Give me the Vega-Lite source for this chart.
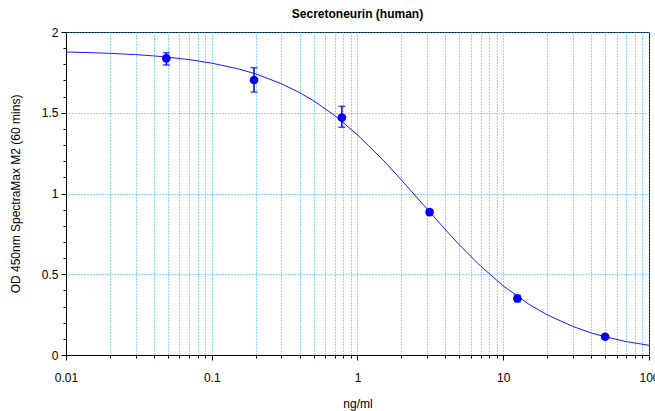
{
  "$schema": "https://vega.github.io/schema/vega-lite/v6.json",
  "width": 583,
  "height": 323,
  "autosize": {"type": "none"},
  "padding": {"left": 66, "top": 32, "right": 6, "bottom": 56},
  "background": "white",
  "title": {"text": "Secretoneurin (human)", "font": "Liberation Sans", "fontSize": 12, "fontWeight": "bold", "color": "#000000", "offset": 5, "anchor": "middle"},
  "config": {
    "view": {"stroke": "#000000", "strokeWidth": 1},
    "axis": {"labelFont": "Liberation Sans", "titleFont": "Liberation Sans", "labelFontSize": 12, "titleFontSize": 12, "titleFontWeight": "normal", "labelColor": "#000000", "titleColor": "#000000", "domainColor": "#000000", "tickColor": "#000000"}
  },
  "datasets": {
    "curve": [
      {"conc": 0.01, "od": 1.876}, {"conc": 0.015, "od": 1.872}, {"conc": 0.02, "od": 1.868}, {"conc": 0.03, "od": 1.86},
      {"conc": 0.04, "od": 1.852}, {"conc": 0.05, "od": 1.844}, {"conc": 0.07, "od": 1.829}, {"conc": 0.1, "od": 1.807},
      {"conc": 0.15, "od": 1.773}, {"conc": 0.2, "od": 1.741}, {"conc": 0.3, "od": 1.68}, {"conc": 0.4, "od": 1.625},
      {"conc": 0.5, "od": 1.574}, {"conc": 0.7, "od": 1.482}, {"conc": 1, "od": 1.363}, {"conc": 1.5, "od": 1.207},
      {"conc": 2, "od": 1.084}, {"conc": 3, "od": 0.904}, {"conc": 4, "od": 0.777}, {"conc": 5, "od": 0.682},
      {"conc": 7, "od": 0.55}, {"conc": 10, "od": 0.428}, {"conc": 15, "od": 0.314}, {"conc": 20, "od": 0.249},
      {"conc": 30, "od": 0.177}, {"conc": 40, "od": 0.137}, {"conc": 50, "od": 0.113}, {"conc": 70, "od": 0.083},
      {"conc": 100, "od": 0.06}
    ],
    "points": [
      {"conc": 0.0488, "od": 1.837, "lo": 1.796, "hi": 1.871},
      {"conc": 0.195, "od": 1.703, "lo": 1.628, "hi": 1.779},
      {"conc": 0.781, "od": 1.47, "lo": 1.41, "hi": 1.54},
      {"conc": 3.125, "od": 0.885, "lo": 0.872, "hi": 0.898},
      {"conc": 12.5, "od": 0.35, "lo": 0.33, "hi": 0.37},
      {"conc": 50, "od": 0.113, "lo": 0.103, "hi": 0.123}
    ]
  },
  "encoding": {
    "x": {
      "field": "conc", "type": "quantitative",
      "scale": {"type": "log", "domain": [0.01, 100], "nice": false},
      "axis": {
        "title": "ng/ml", "titlePadding": 15,
        "values": [0.01,0.02,0.03,0.04,0.05,0.06,0.07,0.08,0.09,0.1,0.2,0.3,0.4,0.5,0.6,0.7,0.8,0.9,1,2,3,4,5,6,7,8,9,10,20,30,40,50,60,70,80,90,100],
        "labelExpr": "abs(log(datum.value)/LN10 - round(log(datum.value)/LN10)) < 0.000001 ? format(datum.value, '~g') : ''",
        "labelOverlap": false, "labelPadding": 12, "labelFlush": false,
        "tickSize": {"condition": {"test": "abs(log(datum.value)/LN10 - round(log(datum.value)/LN10)) < 0.000001", "value": 5}, "value": 3},
        "grid": true, "gridColor": "#1ab2ee", "gridDash": [1, 2], "gridWidth": 1
      }
    },
    "y": {
      "field": "od", "type": "quantitative",
      "scale": {"domain": [0, 2], "nice": false},
      "axis": {
        "title": "OD 450nm SpectraMax M2 (60 mins)", "titlePadding": 19,
        "values": [0,0.1,0.2,0.3,0.4,0.5,0.6,0.7,0.8,0.9,1,1.1,1.2,1.3,1.4,1.5,1.6,1.7,1.8,1.9,2],
        "labelExpr": "abs(datum.value*2 - round(datum.value*2)) < 0.000001 ? format(datum.value, '~g') : ''",
        "labelOverlap": false, "labelPadding": 3, "labelFlush": false,
        "tickSize": {"condition": {"test": "abs(datum.value*2 - round(datum.value*2)) < 0.000001", "value": 5}, "value": 3},
        "grid": true, "gridColor": "#1ab2ee", "gridDash": [1, 2], "gridWidth": 1,
        "gridOpacity": {"condition": {"test": "abs(datum.value*2 - round(datum.value*2)) < 0.000001", "value": 1}, "value": 0}
      }
    }
  },
  "layer": [
    {"data": {"name": "curve"}, "mark": {"type": "line", "color": "#1a1aff", "strokeWidth": 1, "clip": true}},
    {"data": {"name": "points"}, "mark": {"type": "rule", "color": "#0000ff", "strokeWidth": 1.5}, "encoding": {"y": {"field": "lo", "type": "quantitative"}, "y2": {"field": "hi"}}},
    {"data": {"name": "points"}, "mark": {"type": "tick", "orient": "horizontal", "color": "#0000ff", "size": 7, "thickness": 1.5}, "encoding": {"y": {"field": "lo", "type": "quantitative"}}},
    {"data": {"name": "points"}, "mark": {"type": "tick", "orient": "horizontal", "color": "#0000ff", "size": 7, "thickness": 1.5}, "encoding": {"y": {"field": "hi", "type": "quantitative"}}},
    {"data": {"name": "points"}, "mark": {"type": "point", "filled": true, "shape": "circle", "color": "#0000ff", "opacity": 1, "size": 75}}
  ]
}
